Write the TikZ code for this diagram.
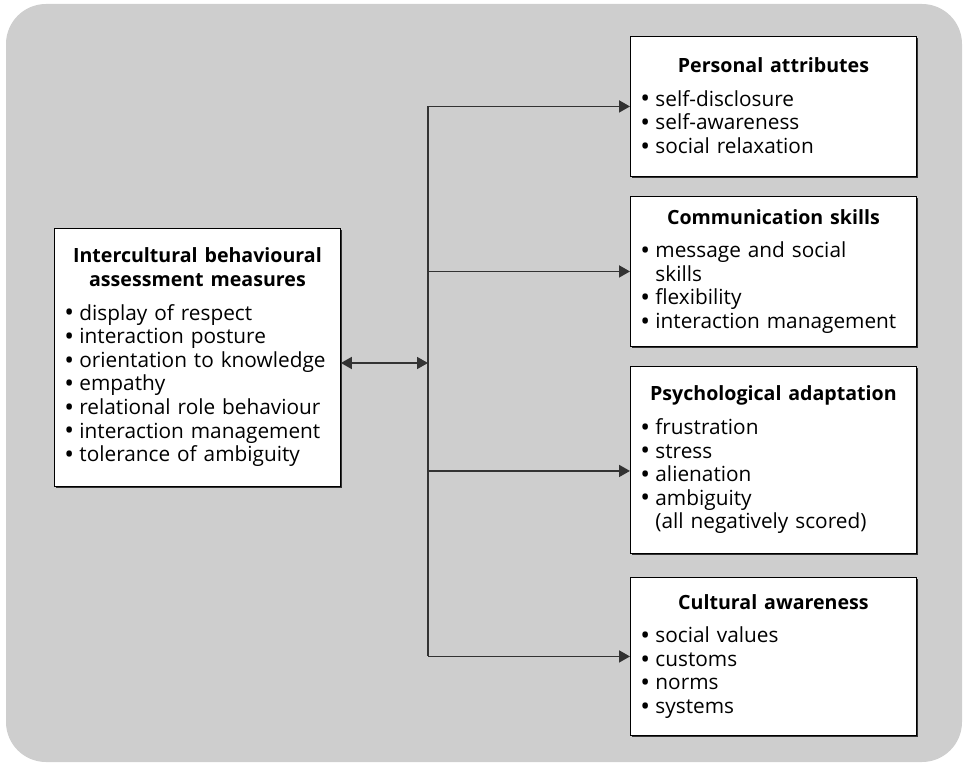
\documentclass[tikz,border=0pt]{standalone}
\usepackage{fontspec}
\setmainfont{Open Sans}
\usetikzlibrary{arrows.meta,positioning,shadows}
\definecolor{panelgray}{RGB}{206,206,206}
\definecolor{linegray}{RGB}{51,51,51}
\newcommand{\itm}[1]{\makebox[0.72em][l]{\raisebox{-0.08em}{\scalebox{1.25}{\textbullet}}}#1}
\newcommand{\boxtitle}[1]{{\centering\fontsize{19.6}{23.6}\selectfont\bfseries #1\par}\vspace{10pt}}
\tikzset{
  font=\fontsize{20.8}{23.6}\selectfont,
  >={Triangle[length=11pt,width=12pt]},
  panel/.style={fill=panelgray,rounded corners=40pt},
  measure/.style={
    draw=black,
    fill=white,
    line width=0.9pt,
    align=left,
    text width=266pt,
    inner xsep=10pt,
    anchor=north west,
    drop shadow={shadow xshift=1.2pt,shadow yshift=-1.2pt,fill=linegray,opacity=1}
  },
  arrow/.style={->,draw=linegray,line width=1.7pt},
  spine/.style={draw=linegray,line width=1.7pt}
}

\begin{document}
\begin{tikzpicture}[x=1pt,y=1pt]

  \useasboundingbox (0,0) rectangle (967,-767);
  \fill[panel] (6,-4) rectangle (962,-762);

  % assessment measures
  \node[measure,minimum height=258pt] at (54,-228) (measures) {
    \boxtitle{Intercultural behavioural\\assessment measures}
    \itm{display of respect}\\
    \itm{interaction posture}\\
    \itm{orientation to knowledge}\\
    \itm{empathy}\\
    \itm{relational role behaviour}\\
    \itm{interaction management}\\
    \itm{tolerance of ambiguity}
  };

  % four outcome groups
  \node[measure,minimum height=140pt] at (630,-36) (personal) {
    \boxtitle{Personal attributes}
    \itm{self-disclosure}\\
    \itm{self-awareness}\\
    \itm{social relaxation}
  };

  \node[measure,minimum height=150pt] at (630,-196) (communication) {
    \boxtitle{Communication skills}
    \itm{message and social}\\
    \hspace*{0.72em}skills\\
    \itm{flexibility}\\
    \itm{interaction management}
  };

  \node[measure,minimum height=187pt] at (630,-366) (psych) {
    \boxtitle{Psychological adaptation}
    \itm{frustration}\\
    \itm{stress}\\
    \itm{alienation}\\
    \itm{ambiguity}\\
    \hspace*{0.72em}(all negatively scored)
  };

  \node[measure,minimum height=158pt] at (630,-577) (cultural) {
    \boxtitle{Cultural awareness}
    \itm{social values}\\
    \itm{customs}\\
    \itm{norms}\\
    \itm{systems}
  };

  \coordinate (hub) at (428,-363);

  \draw[spine] (hub |- personal.west) -- (hub |- cultural.west);
  \draw[arrow,<->] (measures.east |- hub) -- (hub);
  \draw[arrow] (hub |- personal.west) -- (personal.west);
  \draw[arrow] (hub |- communication.west) -- (communication.west);
  \draw[arrow] (hub |- psych.west) ++(0,-11) -- ([yshift=-11pt]psych.west);
  \draw[arrow] (hub |- cultural.west) -- (cultural.west);

\end{tikzpicture}
\end{document}
